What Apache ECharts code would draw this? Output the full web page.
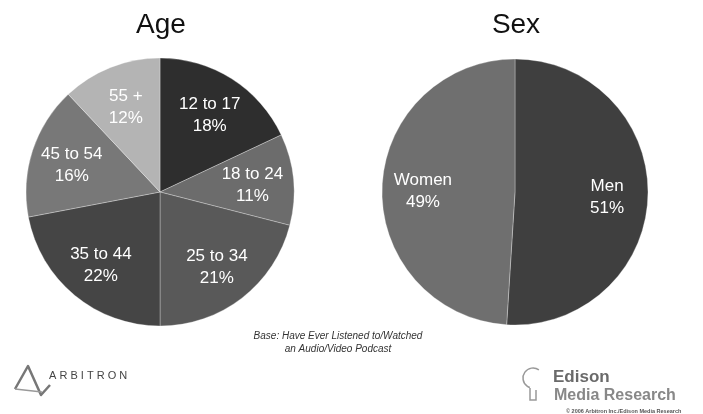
<!DOCTYPE html>
<html>
<head>
<meta charset="utf-8">
<script src="https://cdn.jsdelivr.net/npm/echarts@6/dist/echarts.min.js"></script>
<style>
  html, body { margin: 0; padding: 0; background: #fff; }
  #chart { width: 703px; height: 414px; }
</style>
</head>
<body>
<div id="chart"></div>
<script>
// Podcast audience profile: age groups and sex (percent of respondents)
const ageGroups = ['12 to 17', '18 to 24', '25 to 34', '35 to 44', '45 to 54', '55 +'];
const ageShares = [18, 11, 21, 22, 16, 12];
const ageColors = ['#2e2e2e', '#6c6c6c', '#595959', '#454545', '#787878', '#b4b4b4'];

const sexGroups = ['Men', 'Women'];
const sexShares = [51, 49];
const sexColors = ['#3f3f3f', '#6f6f6f'];

const chartTitles = ['Age', 'Sex'];
const baseNote = ['Base: Have Ever Listened to/Watched', 'an Audio/Video Podcast'];

const FONT = '"Liberation Sans", Arial, Helvetica, sans-serif';

function sliceData(names, values, colors) {
  return names.map((n, i) => ({ name: n, value: values[i], itemStyle: { color: colors[i] } }));
}

function pieSeries(center, R, names, values, colors) {
  return [
    {
      type: 'pie', center: center, radius: [0, R], startAngle: 90, clockwise: true,
      silent: true, label: { show: false }, labelLine: { show: false },
      itemStyle: { borderColor: 'rgba(255,255,255,0.3)', borderWidth: 1 },
      data: sliceData(names, values, colors)
    },
    {
      // transparent ring used only to place the labels at about two thirds of the radius
      type: 'pie', center: center, radius: [R * 0.34, R], startAngle: 90, clockwise: true,
      silent: true, labelLine: { show: false },
      itemStyle: { color: 'rgba(0,0,0,0)', borderWidth: 0 },
      label: {
        show: true, position: 'inside', color: '#ffffff', offset: [0, 2],
        fontFamily: FONT, fontSize: 17, lineHeight: 22,
        formatter: p => p.name + '\n' + p.value + '%'
      },
      data: names.map((n, i) => ({ name: n, value: values[i] }))
    }
  ];
}

const chart = echarts.init(document.getElementById('chart'), null, { renderer: 'canvas' });

chart.setOption({
  backgroundColor: '#ffffff',
  animation: false,
  title: [
    { text: chartTitles[0], left: 156, top: 6, textAlign: 'center',
      textStyle: { fontFamily: FONT, fontSize: 28, fontWeight: 'normal', color: '#111' } },
    { text: chartTitles[1], left: 511, top: 6, textAlign: 'center',
      textStyle: { fontFamily: FONT, fontSize: 28, fontWeight: 'normal', color: '#111' } }
  ],
  series: [
    ...pieSeries([160, 192], 134, ageGroups, ageShares, ageColors),
    ...pieSeries([515, 192], 133, sexGroups, sexShares, sexColors)
  ],
  graphic: [
    {
      type: 'text', x: 338, y: 330,
      style: { text: baseNote.join('\n'), font: 'italic 10px ' + FONT,
               lineHeight: 13, fill: '#333', align: 'center' }
    },
    // Arbitron mark
    {
      type: 'polyline', shape: { points: [[15, 389], [28, 366], [41, 395], [50, 385]] },
      style: { stroke: '#777', lineWidth: 2.5, fill: null, lineJoin: 'round' }
    },
    {
      type: 'polyline', shape: { points: [[15, 389], [42, 392]] },
      style: { stroke: '#999', lineWidth: 1.5, fill: null }
    },
    {
      type: 'text', x: 49, y: 370,
      style: { text: 'A R B I T R O N', font: '11px ' + FONT, fill: '#444' }
    },
    // Edison bulb mark
    {
      type: 'arc', shape: { cx: 533, cy: 378, r: 10, startAngle: -Math.PI * 0.3, endAngle: Math.PI * 0.6, clockwise: false },
      style: { stroke: '#999', lineWidth: 1.5, fill: null }
    },
    {
      type: 'polyline', shape: { points: [[530, 388], [530, 400], [536, 400], [536, 390]] },
      style: { stroke: '#999', lineWidth: 1.5, fill: null }
    },
    {
      type: 'text', x: 553, y: 369,
      style: { text: 'Edison', font: 'bold 17px ' + FONT, fill: '#6a6a6a' }
    },
    {
      type: 'text', x: 554, y: 388,
      style: { text: 'Media Research', font: 'bold 16px ' + FONT, fill: '#888' }
    },
    {
      type: 'text', x: 566, y: 408,
      style: { text: '© 2006 Arbitron Inc./Edison Media Research', font: 'bold 5.5px ' + FONT, fill: '#555' }
    }
  ]
});
</script>
</body>
</html>
